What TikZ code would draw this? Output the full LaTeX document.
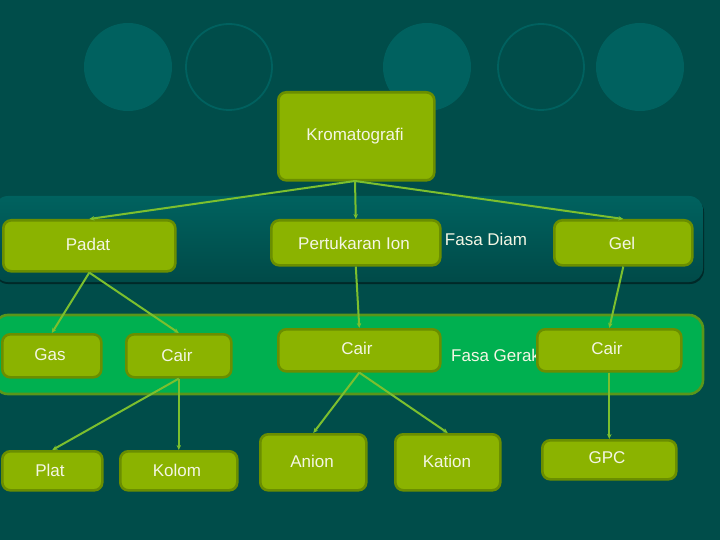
\documentclass[tikz,border=0pt]{standalone}
\usepackage{fontspec}
\setmainfont{Liberation Sans}
\usetikzlibrary{arrows.meta}
\definecolor{bg}{HTML}{004D4A}
\definecolor{circ}{HTML}{00615F}
\definecolor{bandtop}{HTML}{00625F}
\definecolor{bandbot}{HTML}{004A48}
\definecolor{bandgreen}{HTML}{00B050}
\definecolor{bandedge}{HTML}{5A961A}
\definecolor{nodefill}{HTML}{8BB300}
\definecolor{nodeedge}{HTML}{6A8E00}
\definecolor{linec}{HTML}{7CBF2E}
\definecolor{txt}{HTML}{F4F6E4}
\tikzset{
  box/.style={draw=nodeedge, line width=2.6pt, fill=nodefill, rounded corners=8pt,
    text=txt, font=\fontsize{17}{20}\selectfont, inner sep=0pt},
  plain/.style={text=txt, font=\fontsize{17}{20}\selectfont, inner sep=0pt},
  conn/.style={linec, line width=2pt, -{Stealth[length=5pt,width=4.5pt]}},
}
\newcommand{\boxat}[6]{% name, x1,y1,x2,y2, text
  \node[box, minimum width={(#4-#2)*1pt}, minimum height={(#5-#3)*1pt}, anchor=north west] (#1) at (#2,#3) {};
}
\begin{document}
\begin{tikzpicture}[x=1pt,y=-1pt]
\useasboundingbox (0,0) rectangle (720,540);
\fill[bg] (0,0) rectangle (720,540);
% decorative circles
\fill[circ] (128,67) ellipse [x radius=44, y radius=44];
\draw[circ, line width=1.8pt] (229,67) ellipse [x radius=43, y radius=43];
\fill[circ] (427,67) ellipse [x radius=44, y radius=44];
\draw[circ, line width=1.8pt] (541,67) ellipse [x radius=43, y radius=43];
\fill[circ] (640,67) ellipse [x radius=44, y radius=44];
% band Fasa Diam
\fill[bandbot!55!black, rounded corners=14pt] (-6,198) rectangle (704,284);
\shade[top color=bandtop, bottom color=bandbot, rounded corners=14pt] (-6,196) rectangle (703,282);
% band Fasa Gerak
\draw[bandedge, fill=bandgreen, line width=2.6pt, rounded corners=14pt] (-6,315) rectangle (703,394);
% nodes
\boxat{krom}{277}{91}{433}{179}{}
\node[plain] at (355,136) {Kromatografi};
\boxat{padat}{2}{219}{174}{270}{}
\node[plain] at (88,244) {Padat};
\boxat{pert}{270}{219}{439}{264}{}
\node[plain] at (354,243) {Pertukaran Ion};
\node[plain] (fdiam) at (486,239) {Fasa Diam};
\boxat{gel}{553}{219}{691}{264}{}
\node[plain] at (622,243) {Gel};
\boxat{gas}{1}{333}{100}{376}{}
\node[plain] at (50,355) {Gas};
\boxat{cairA}{125}{333}{230}{376}{}
\node[plain] at (177,355) {Cair};
\node[plain, anchor=west] (fgerak) at (451,355) {Fasa Gerak};
\boxat{cairB}{277}{328}{439}{370}{}
\node[plain] at (357,348) {Cair};
\boxat{cairC}{536}{328}{680}{370}{}
\node[plain] at (607,348) {Cair};
\boxat{plat}{1}{450}{101}{489}{}
\node[plain] at (50,470) {Plat};
\boxat{kolom}{119}{450}{236}{489}{}
\node[plain] at (177,470) {Kolom};
\boxat{anion}{259}{433}{365}{489}{}
\node[plain] at (312,461) {Anion};
\boxat{kation}{394}{433}{499}{489}{}
\node[plain] at (447,461) {Kation};
\boxat{gpc}{541}{439}{675}{478}{}
\node[plain] at (607,458) {GPC};
% connectors
\coordinate (kb) at (355,181);
\draw[conn] (kb) -- (padat.north);
\draw[conn] (kb) -- (pert.north);
\draw[conn] (kb) -- (gel.north);
\draw[conn] (padat.south) -- (gas.north);
\draw[conn] (padat.south) -- (cairA.north);
\draw[conn] (pert.south) -- (cairB.north);
\draw[conn] (gel.south) -- (cairC.north);
\draw[conn] (cairA.south) -- (plat.north);
\draw[conn] (cairA.south) -- (kolom.north);
\draw[conn] (cairB.south) -- (anion.north);
\draw[conn] (cairB.south) -- (kation.north);
\draw[conn] (cairC.south) -- (gpc.north);
\end{tikzpicture}
\end{document}
